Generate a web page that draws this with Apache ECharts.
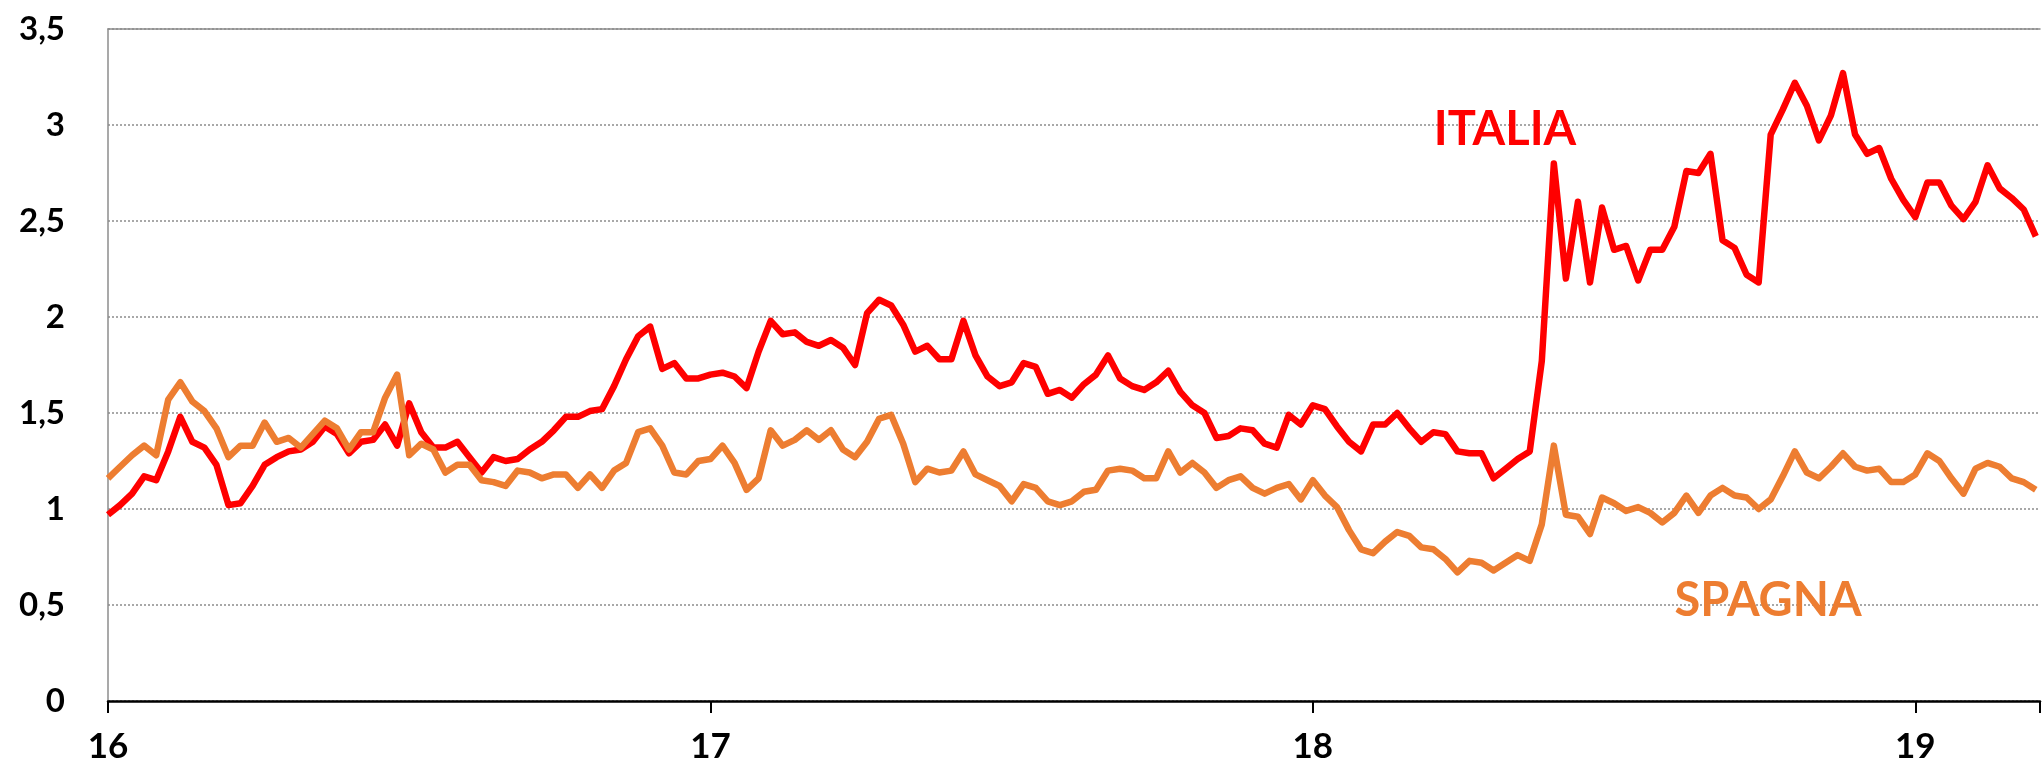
<!DOCTYPE html>
<html>
<head>
<meta charset="utf-8">
<script src="https://cdn.jsdelivr.net/npm/echarts@6/dist/echarts.min.js"></script>
<style>
html,body{margin:0;padding:0;background:#fff;}
#chart{width:2043px;height:770px;}
</style>
</head>
<body>
<div id="chart"></div>
<script>
// ---- DATA ----
const START_YEAR = 16;      // first sample at start of 2016
const STEP = 0.02;          // sampling step in years
const yearLabels = ['16', '17', '18', '19'];
const yTickLabels = ['0', '0,5', '1', '1,5', '2', '2,5', '3', '3,5'];
const seriesNames = ['ITALIA', 'SPAGNA'];

const italia16 = [
  0.97,1.02,1.08,1.17,1.15,1.30,1.48,1.35,1.32,1.23,
  1.02,1.03,1.12,1.23,1.27,1.30,1.31,1.35,1.43,1.39,
  1.29,1.35,1.36,1.44,1.33,1.55,1.40,1.32,1.32,1.35,
  1.27,1.19,1.27,1.25,1.26,1.31,1.35,1.41,1.48,1.48,
  1.51,1.52,1.64,1.78,1.90,1.95,1.73,1.76,1.68,1.68
];
const italia17 = [
  1.70,1.71,1.69,1.63,1.82,1.98,1.91,1.92,1.87,1.85,
  1.88,1.84,1.75,2.02,2.09,2.06,1.96,1.82,1.85,1.78,
  1.78,1.98,1.80,1.69,1.64,1.66,1.76,1.74,1.60,1.62,
  1.58,1.65,1.70,1.80,1.68,1.64,1.62,1.66,1.72,1.61,
  1.54,1.50,1.37,1.38,1.42,1.41,1.34,1.32,1.49,1.44
];
const italia18 = [
  1.54,1.52,1.43,1.35,1.30,1.44,1.44,1.50,1.42,1.35,
  1.40,1.39,1.30,1.29,1.29,1.16,1.21,1.26,1.30,1.77,
  2.80,2.20,2.60,2.18,2.57,2.35,2.37,2.19,2.35,2.35,
  2.47,2.76,2.75,2.85,2.40,2.36,2.22,2.18,2.95,3.08,
  3.22,3.10,2.92,3.05,3.27,2.95,2.85,2.88,2.72,2.61
];
const italia19 = [
  2.52,2.70,2.70,2.58,2.51,2.60,2.79,2.67,2.62,2.56,2.42
];

const spagna16 = [
  1.16,1.22,1.28,1.33,1.28,1.57,1.66,1.56,1.51,1.42,
  1.27,1.33,1.33,1.45,1.35,1.37,1.32,1.39,1.46,1.42,
  1.31,1.40,1.40,1.58,1.70,1.28,1.34,1.31,1.19,1.23,
  1.23,1.15,1.14,1.12,1.20,1.19,1.16,1.18,1.18,1.11,
  1.18,1.11,1.20,1.24,1.40,1.42,1.33,1.19,1.18,1.25
];
const spagna17 = [
  1.26,1.33,1.24,1.10,1.16,1.41,1.33,1.36,1.41,1.36,
  1.41,1.31,1.27,1.35,1.47,1.49,1.34,1.14,1.21,1.19,
  1.20,1.30,1.18,1.15,1.12,1.04,1.13,1.11,1.04,1.02,
  1.04,1.09,1.10,1.20,1.21,1.20,1.16,1.16,1.30,1.19,
  1.24,1.19,1.11,1.15,1.17,1.11,1.08,1.11,1.13,1.05
];
const spagna18 = [
  1.15,1.07,1.01,0.89,0.79,0.77,0.83,0.88,0.86,0.80,
  0.79,0.74,0.67,0.73,0.72,0.68,0.72,0.76,0.73,0.92,
  1.33,0.97,0.96,0.87,1.06,1.03,0.99,1.01,0.98,0.93,
  0.98,1.07,0.98,1.07,1.11,1.07,1.06,1.00,1.05,1.17,
  1.30,1.19,1.16,1.22,1.29,1.22,1.20,1.21,1.14,1.14
];
const spagna19 = [
  1.18,1.29,1.25,1.16,1.08,1.21,1.24,1.22,1.16,1.14,1.10
];

// ---- BUILD ----
const italia = [].concat(italia16, italia17, italia18, italia19);
const spagna = [].concat(spagna16, spagna17, spagna18, spagna19);
const toPairs = arr => arr.map((v, i) => [START_YEAR + i * STEP, v]);

const X_MIN = 16, X_MAX = 19.207;

const chart = echarts.init(document.getElementById('chart'), null, {renderer: 'canvas'});
chart.setOption({
  animation: false,
  backgroundColor: '#ffffff',
  grid: {left: 108, right: 0, top: 29, bottom: 69, containLabel: false},
  xAxis: [{
    type: 'value', min: X_MIN, max: X_MAX, interval: 1,
    axisLine: {show: true, lineStyle: {color: '#000', width: 2.5}},
    axisTick: {show: true, length: 12, lineStyle: {color: '#000', width: 2}},
    axisLabel: {
      margin: 28, color: '#000', fontFamily: 'Lato', fontWeight: 'bold', fontSize: 35,
      formatter: v => (Math.abs(v - Math.round(v)) < 1e-6 ? (yearLabels[Math.round(v) - START_YEAR] || '') : '')
    },
    splitLine: {show: false}
  }, {
    type: 'value', position: 'top', min: X_MIN, max: X_MAX,
    axisLine: {show: true, onZero: false, lineStyle: {color: '#8c8c8c', width: 1.5}},
    axisTick: {show: false}, axisLabel: {show: false}, splitLine: {show: false}
  }],
  yAxis: {
    type: 'value', min: 0, max: 3.5, interval: 0.5,
    axisLine: {show: true, lineStyle: {color: '#8c8c8c', width: 1.5}},
    axisTick: {show: false},
    axisLabel: {
      margin: 43, color: '#000', fontFamily: 'Lato', fontWeight: 'bold', fontSize: 33,
      formatter: v => yTickLabels[Math.round(v / 0.5)]
    },
    splitLine: {show: true, lineStyle: {color: '#8c8c8c', width: 1.5, type: [2, 2]}}
  },
  series: [{
    name: seriesNames[0], type: 'line', showSymbol: false, symbol: 'none',
    data: toPairs(italia), z: 3,
    lineStyle: {color: '#ff0000', width: 6.5, join: 'round'}
  }, {
    name: seriesNames[1], type: 'line', showSymbol: false, symbol: 'none',
    data: toPairs(spagna), z: 4,
    lineStyle: {color: '#ed7d31', width: 6.5, join: 'round'}
  }],
  graphic: [{
    type: 'text', x: 1505, y: 130, z: 10,
    style: {text: seriesNames[0], align: 'center', verticalAlign: 'middle',
            font: 'bold 47px Lato', fill: '#ff0000'}
  }, {
    type: 'text', x: 1768, y: 601, z: 10,
    style: {text: seriesNames[1], align: 'center', verticalAlign: 'middle',
            font: 'bold 47px Lato', fill: '#ed7d31'}
  }]
});
</script>
</body>
</html>
